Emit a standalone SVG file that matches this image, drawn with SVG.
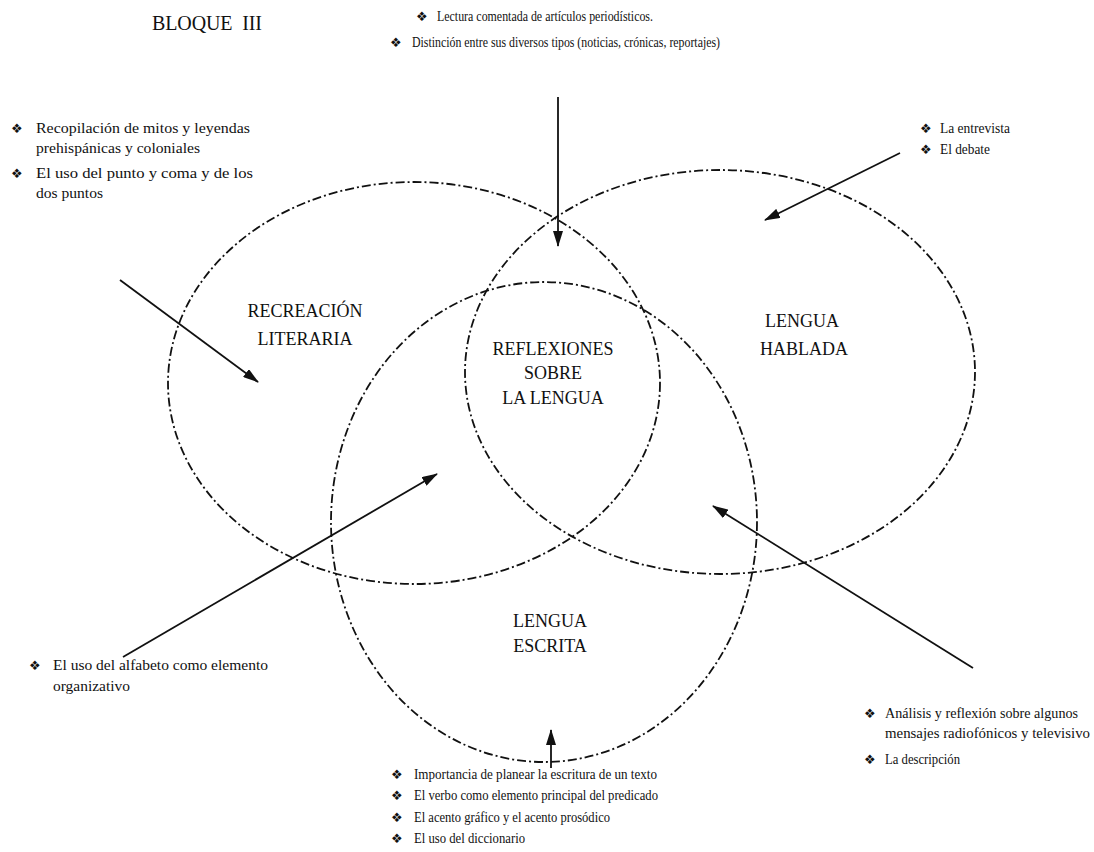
<svg xmlns="http://www.w3.org/2000/svg" width="1094" height="852" viewBox="0 0 1094 852">
<defs>
<style>
.t{font-family:"Liberation Serif","Times New Roman",serif;font-size:14px;fill:#111}
.lbl{font-family:"Liberation Serif","Times New Roman",serif;font-size:18px;fill:#111;text-anchor:middle}
.b{font-family:"DejaVu Sans",sans-serif;font-size:13px;fill:#111}
.c{fill:none;stroke:#111;stroke-width:1.8;stroke-dasharray:9 3 2 3}
</style>
<marker id="ah2" viewBox="0 0 16 10" refX="15" refY="5" markerWidth="16" markerHeight="10" markerUnits="userSpaceOnUse" orient="auto">
<path d="M0,0 L16,5 L0,10 Z" fill="#111"/>
</marker>
</defs>
<rect width="1094" height="852" fill="#fff"/>
<text x="152" y="30" font-family="Liberation Serif,serif" font-size="20" fill="#111" xml:space="preserve" textLength="110" lengthAdjust="spacing">BLOQUE  III</text>

<g id="recreacion">
<ellipse class="c" cx="414" cy="383" rx="246" ry="201"/>
<text class="lbl" x="305" y="317">RECREACIÓN</text>
<text class="lbl" x="305" y="345">LITERARIA</text>
</g>
<g id="hablada">
<ellipse class="c" cx="720" cy="372" rx="255" ry="202"/>
<text class="lbl" x="802" y="327">LENGUA</text>
<text class="lbl" x="804" y="355">HABLADA</text>
</g>
<g id="escrita">
<ellipse class="c" cx="544" cy="522" rx="213" ry="240"/>
<text class="lbl" x="550" y="627">LENGUA</text>
<text class="lbl" x="550" y="652">ESCRITA</text>
</g>
<g id="reflexiones">
<text class="lbl" x="553" y="355">REFLEXIONES</text>
<text class="lbl" x="553" y="379">SOBRE</text>
<text class="lbl" x="553" y="404">LA LENGUA</text>
</g>

<g id="top-notes">
<text class="b" x="416" y="21">❖</text>
<text class="t" x="437" y="21" textLength="216" lengthAdjust="spacingAndGlyphs">Lectura comentada de artículos periodísticos.</text>
<text class="b" x="390" y="47">❖</text>
<text class="t" x="412" y="47" textLength="308" lengthAdjust="spacingAndGlyphs">Distinción entre sus diversos tipos (noticias, crónicas, reportajes)</text>
</g>
<g id="left-notes">
<text class="b" x="11" y="133">❖</text>
<text class="t" x="36" y="133" textLength="214" lengthAdjust="spacingAndGlyphs">Recopilación de mitos y leyendas</text>
<text class="t" x="36" y="153" textLength="164" lengthAdjust="spacingAndGlyphs">prehispánicas y coloniales</text>
<text class="b" x="11" y="178">❖</text>
<text class="t" x="36" y="178" textLength="217" lengthAdjust="spacingAndGlyphs">El uso del punto y coma y de los</text>
<text class="t" x="36" y="198" textLength="67" lengthAdjust="spacingAndGlyphs">dos puntos</text>
</g>
<g id="right-top-notes">
<text class="b" x="920" y="133">❖</text>
<text class="t" x="940" y="133" textLength="70" lengthAdjust="spacingAndGlyphs">La entrevista</text>
<text class="b" x="920" y="154">❖</text>
<text class="t" x="940" y="154" textLength="50" lengthAdjust="spacingAndGlyphs">El debate</text>
</g>
<g id="left-bottom-notes">
<text class="b" x="29" y="670">❖</text>
<text class="t" x="53" y="670" textLength="215" lengthAdjust="spacingAndGlyphs">El uso del alfabeto como elemento</text>
<text class="t" x="53" y="691" textLength="77" lengthAdjust="spacingAndGlyphs">organizativo</text>
</g>
<g id="right-bottom-notes">
<text class="b" x="864" y="718">❖</text>
<text class="t" x="885" y="718" textLength="193" lengthAdjust="spacingAndGlyphs">Análisis y reflexión sobre algunos</text>
<text class="t" x="885" y="738" textLength="205" lengthAdjust="spacingAndGlyphs">mensajes radiofónicos y televisivo</text>
<text class="b" x="864" y="764">❖</text>
<text class="t" x="885" y="764" textLength="75" lengthAdjust="spacingAndGlyphs">La descripción</text>
</g>
<g id="bottom-notes">
<text class="b" x="391" y="779">❖</text>
<text class="t" x="414" y="779" textLength="243" lengthAdjust="spacingAndGlyphs">Importancia de planear la escritura de un texto</text>
<text class="b" x="391" y="800">❖</text>
<text class="t" x="414" y="800" textLength="244" lengthAdjust="spacingAndGlyphs">El verbo como elemento principal del predicado</text>
<text class="b" x="391" y="822">❖</text>
<text class="t" x="414" y="822" textLength="196" lengthAdjust="spacingAndGlyphs">El acento gráfico y el acento prosódico</text>
<text class="b" x="391" y="843">❖</text>
<text class="t" x="414" y="843" textLength="111" lengthAdjust="spacingAndGlyphs">El uso del diccionario</text>
</g>

<g id="connectors" fill="none" stroke="#111" stroke-width="1.8">
<line x1="558" y1="97" x2="558" y2="246" marker-end="url(#ah2)"/>
<line x1="900" y1="153" x2="765" y2="220" marker-end="url(#ah2)"/>
<line x1="120" y1="280" x2="258" y2="382" marker-end="url(#ah2)"/>
<line x1="123" y1="657" x2="437" y2="474" marker-end="url(#ah2)"/>
<line x1="973" y1="668" x2="713" y2="506" marker-end="url(#ah2)"/>
<line x1="551" y1="768" x2="551" y2="730" marker-end="url(#ah2)"/>
</g>
</svg>
